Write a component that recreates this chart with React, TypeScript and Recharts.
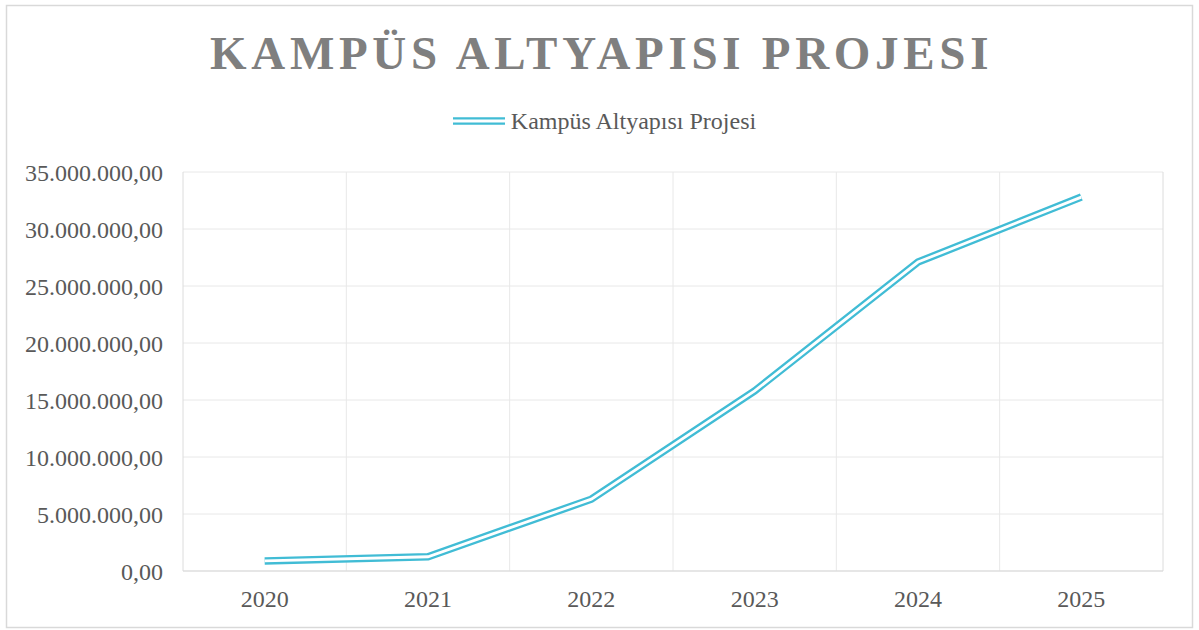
import React from 'react';
import {
  LineChart,
  Line,
  XAxis,
  YAxis,
  CartesianGrid,
  ReferenceLine,
  Legend,
  Customized,
} from 'recharts';

const years = ['2020', '2021', '2022', '2023', '2024', '2025'];
const values = [880000, 1250000, 6300000, 15800000, 27100000, 32800000];
const yTicks = [0, 5000000, 10000000, 15000000, 20000000, 25000000, 30000000, 35000000];
const seriesName = 'Kampüs Altyapısı Projesi';
const titleText = 'KAMPÜS ALTYAPISI PROJESI';

const data = years.map((y, i) => ({ idx: i, year: y, value: values[i] }));

const LINE = '#41bcd5';
const FONT = '"Liberation Serif", "Times New Roman", serif';

const fmt = (v: number) => {
  const s = Math.round(v).toString();
  return s.replace(/\B(?=(\d{3})+(?!\d))/g, '.') + ',00';
};

const LegendContent = () => (
  <div
    style={{
      display: 'flex',
      justifyContent: 'center',
      alignItems: 'center',
      height: 30,
      fontFamily: FONT,
      fontSize: 24,
      color: '#595959',
    }}
  >
    <svg width={52} height={12} style={{ marginRight: 6 }}>
      <line x1={0} x2={52} y1={6} y2={6} stroke={LINE} strokeWidth={7.5} />
      <line x1={0} x2={52} y1={6} y2={6} stroke="#ffffff" strokeWidth={2.8} />
    </svg>
    <span>{seriesName}</span>
  </div>
);

const Title = () => (
  <text
    x={210}
    y={69}
    fill="#7f7f7f"
    fontFamily={FONT}
    fontWeight="bold"
    fontSize={47}
    letterSpacing={4.7}
  >
    {titleText}
  </text>
);

const Frame = () => (
  <rect x={6.5} y={5.5} width={1186} height={622} fill="none" stroke="#d9d9d9" strokeWidth={1.5} />
);

export default function App() {
  return (
    <div style={{ position: 'absolute', left: 0, top: 0, width: 1199, height: 630, background: '#fff' }}>
      <LineChart
        width={1199}
        height={630}
        data={data}
        margin={{ top: 142, right: 36, bottom: 29, left: 0 }}
      >
        <Customized component={Frame} />
        <Customized component={Title} />
        <CartesianGrid horizontal vertical={false} stroke="#e8e8e8" />
        {[-0.5, 0.5, 1.5, 2.5, 3.5, 4.5, 5.5].map((x) => (
          <ReferenceLine key={x} x={x} stroke={x === -0.5 || x === 5.5 ? '#dcdcdc' : '#e8e8e8'} />
        ))}
        <XAxis
          type="number"
          dataKey="idx"
          domain={[-0.5, 5.5]}
          ticks={[0, 1, 2, 3, 4, 5]}
          tickFormatter={(i: number) => years[i]}
          height={30}
          tickLine={false}
          axisLine={{ stroke: '#d9d9d9' }}
          tickMargin={13}
          tick={{ fill: '#595959', fontFamily: FONT, fontSize: 24 }}
          allowDataOverflow
        />
        <YAxis
          type="number"
          domain={[0, 35000000]}
          ticks={yTicks}
          tickFormatter={fmt}
          width={183}
          tickLine={false}
          axisLine={false}
          tickMargin={14}
          tick={{ fill: '#595959', fontFamily: FONT, fontSize: 24 }}
        />
        <Legend
          verticalAlign="top"
          align="center"
          content={LegendContent}
          wrapperStyle={{ top: 106, left: 5, width: 1199, height: 30 }}
        />
        <Line
          type="linear"
          dataKey="value"
          name={seriesName}
          stroke={LINE}
          strokeWidth={7.5}
          dot={false}
          activeDot={false}
          isAnimationActive={false}
          legendType="none"
        />
        <Line
          type="linear"
          dataKey="value"
          name="inner"
          stroke="#ffffff"
          strokeWidth={2.8}
          dot={false}
          activeDot={false}
          isAnimationActive={false}
          legendType="none"
        />
      </LineChart>
    </div>
  );
}
